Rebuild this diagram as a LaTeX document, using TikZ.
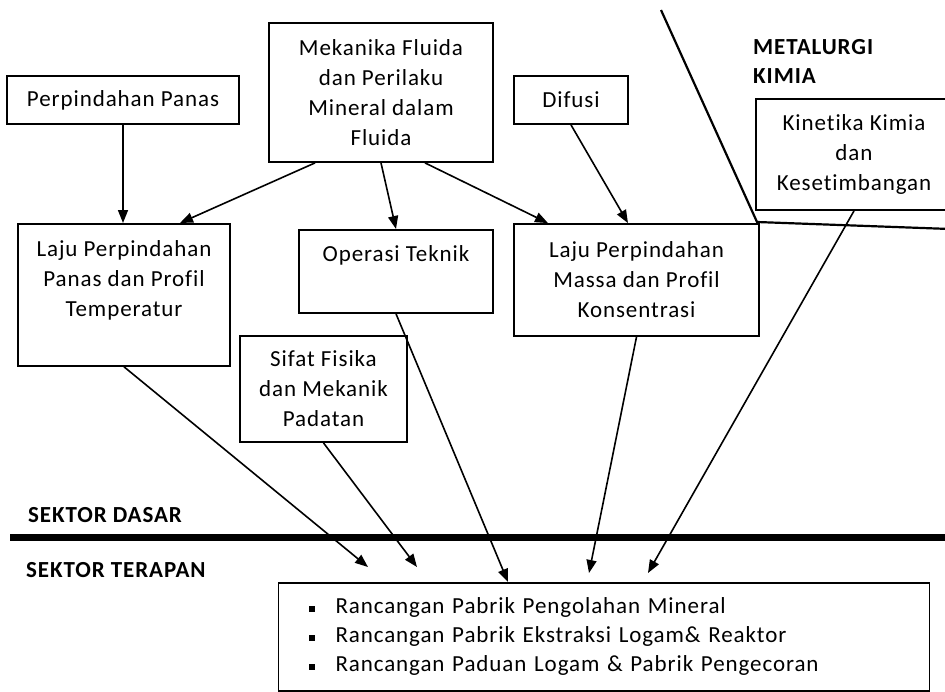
\documentclass[tikz,border=0pt]{standalone}
\usepackage{fontspec}
\setmainfont{Carlito}[LetterSpace=4, Ligatures=NoCommon]
\usepackage{tikz}
\usetikzlibrary{arrows.meta,positioning}

\begin{document}
\begin{tikzpicture}[x=1pt, y=-1pt,
  every node/.style={font=\fontsize{23}{30}\selectfont},
  box/.style={draw, rectangle, line width=1.8pt, align=center, inner sep=0pt},
  topbox/.style={draw, rectangle, line width=1.8pt, inner xsep=0pt},
  lbl/.style={font=\fontsize{23}{29}\selectfont\bfseries, align=left, inner sep=0pt},
  arr/.style={-{Triangle[length=13pt,width=10pt]}, line width=1.6pt}
]
\useasboundingbox (0,0) rectangle (945,691);

%% top row
\node[box, minimum width=232pt, minimum height=48pt] (panas) at (123,100) {Perpindahan Panas};
\node[box, minimum width=224pt, minimum height=139pt] (fluida) at (381,92.5)
    {Mekanika Fluida\\dan Perilaku\\Mineral dalam\\Fluida};
\node[box, minimum width=114pt, minimum height=48pt] (difusi) at (571,100) {Difusi};

%% metalurgi kimia corner
\coordinate (mtop) at (661,10);
\coordinate (mcorner) at (757,222);
\coordinate (mright) at (950,229);
\draw[line width=2.2pt] (mtop) -- (mcorner) -- (mright);
\node[lbl, anchor=west] (metal) at (753,61.5) {METALURGI\\KIMIA};
\node[box, minimum width=196pt, minimum height=111pt] (kinetika) at (854,154.5)
    {Kinetika Kimia\\dan\\Kesetimbangan};

%% middle row
\node[topbox, anchor=north, inner ysep=17pt] (lajupanas) at (124,223)
    {\parbox[t][108pt][t]{212pt}{\centering Laju Perpindahan\\Panas dan Profil\\Temperatur}};
\node[topbox, anchor=north, inner ysep=16pt] (operasi) at (396,229)
    {\parbox[t][51pt][t]{194pt}{\centering Operasi Teknik}};
\node[box, minimum width=245pt, minimum height=112pt] (lajumassa) at (636.5,280)
    {Laju Perpindahan\\Massa dan Profil\\Konsentrasi};
\node[box, minimum width=167pt, minimum height=106pt] (sifat) at (323.5,389)
    {Sifat Fisika\\dan Mekanik\\Padatan};

%% sectors
\coordinate (sepL) at (10,537);
\coordinate (sepR) at (945,537);
\draw[line width=7pt] (sepL) -- (sepR);
\node[lbl, anchor=west] (dasar) at (28,515) {SEKTOR DASAR};
\node[lbl, anchor=west] (terapan) at (26,570) {SEKTOR TERAPAN};

%% applied designs
\node[box, anchor=north, minimum height=108pt, text width=591pt, inner xsep=30pt,
      align=left, font=\fontsize{23}{29}\selectfont] (rancangan) at (604,582)
    {\rule[2pt]{6pt}{6pt}\hspace{21pt}Rancangan Pabrik Pengolahan Mineral\\
     \rule[2pt]{6pt}{6pt}\hspace{21pt}Rancangan Pabrik Ekstraksi Logam\& Reaktor\\
     \rule[2pt]{6pt}{6pt}\hspace{21pt}Rancangan Paduan Logam \& Pabrik Pengecoran};

%% arrows
\draw[arr] (panas.south) -- (panas.south |- lajupanas.north);
\draw[arr] ([xshift=-66pt]fluida.south) -- ([xshift=56pt]lajupanas.north);
\draw[arr] (fluida.south) -- (operasi.north);
\draw[arr] ([xshift=44pt]fluida.south) -- ([xshift=-88.5pt]lajumassa.north);
\draw[arr] (difusi.south) -- ([xshift=-8.5pt]lajumassa.north);
\draw[arr] (lajupanas.south) -- ([xshift=-236pt,yshift=15pt]rancangan.north);
\draw[arr] (sifat.south) -- ([xshift=-187pt,yshift=15pt]rancangan.north);
\draw[arr] (operasi.south) -- ([xshift=-96pt]rancangan.north);
\draw[arr] (lajumassa.south) -- ([xshift=-15pt,yshift=9pt]rancangan.north);
\draw[arr] (kinetika.south) -- ([xshift=44pt,yshift=9pt]rancangan.north);
\end{tikzpicture}
\end{document}
